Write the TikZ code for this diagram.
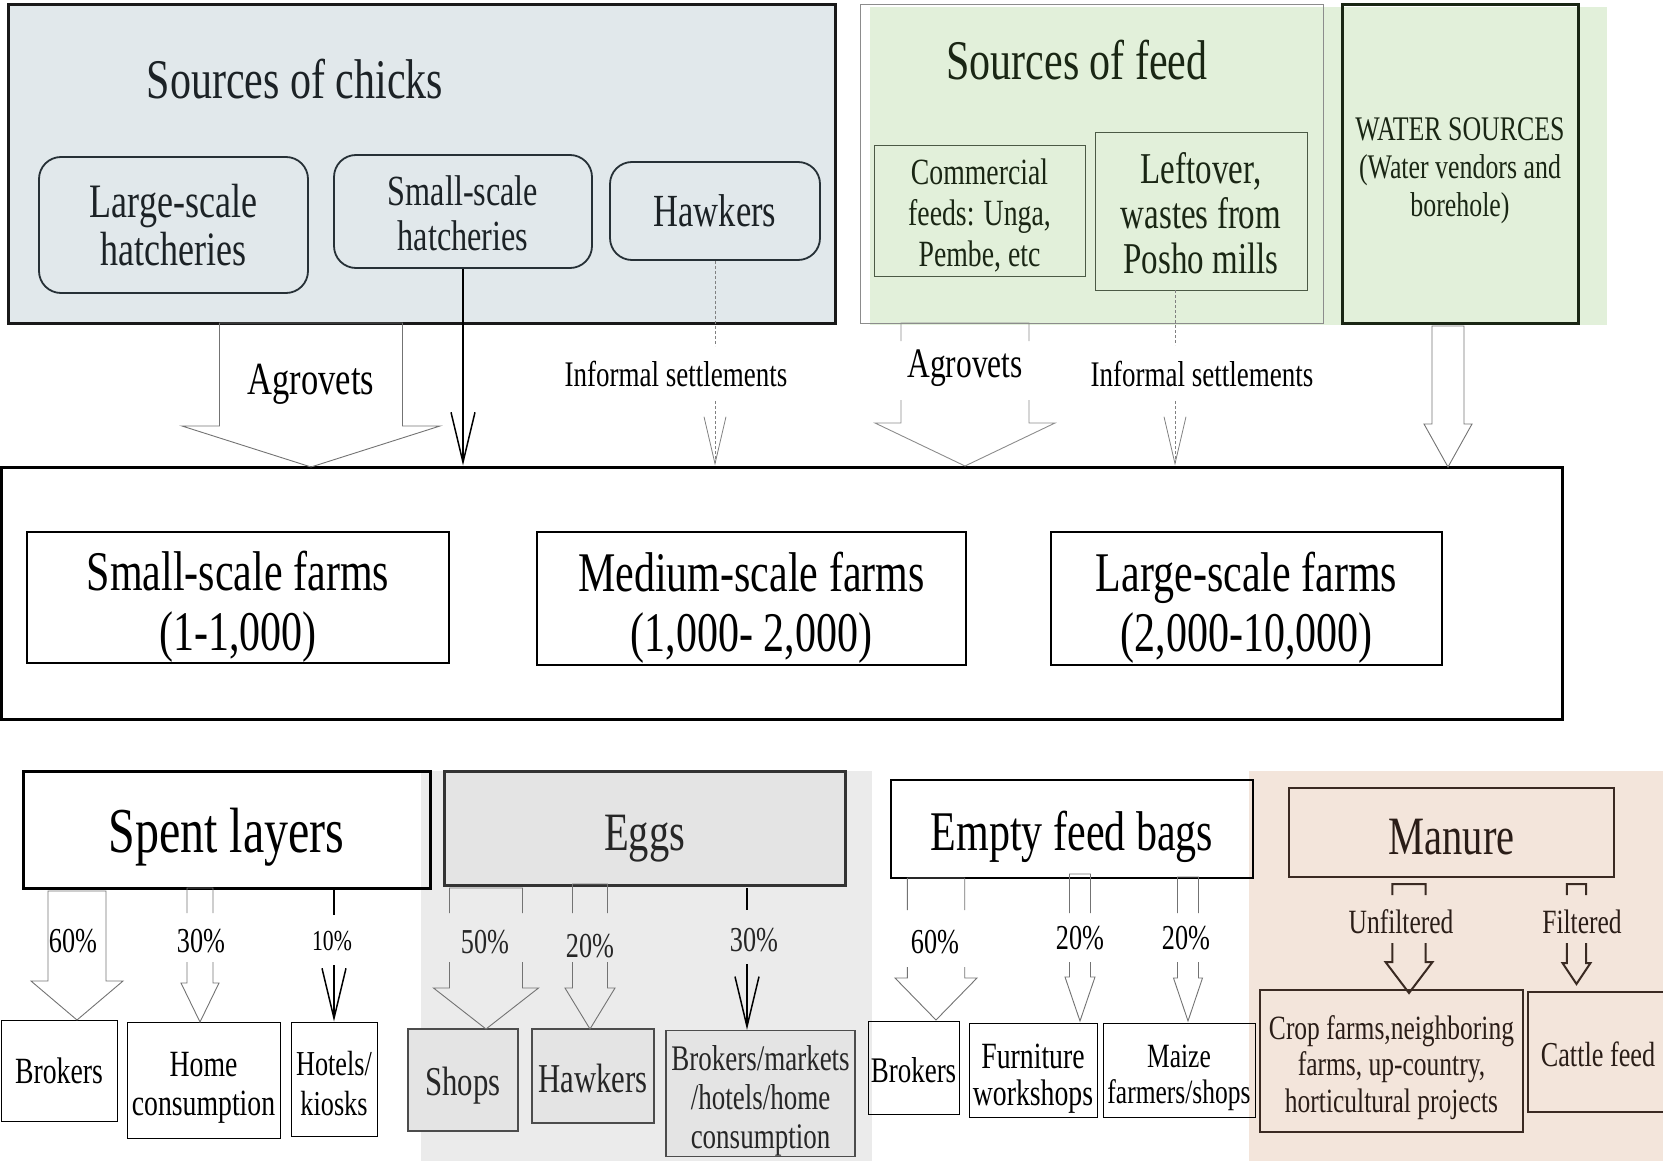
\documentclass[tikz,border=0pt]{standalone}
\usepackage{fontspec}
\setmainfont{Liberation Serif}[FakeStretch=0.75]
\usetikzlibrary{arrows.meta}

\definecolor{chickbg}{HTML}{E1E8EB}
\definecolor{chickln}{HTML}{263036}
\definecolor{chicktx}{HTML}{1C2226}
\definecolor{feedbg}{HTML}{E2F0DA}
\definecolor{feedln}{HTML}{4B5A45}
\definecolor{feedtx}{HTML}{1A2614}
\definecolor{eggbg}{HTML}{EBEBEB}
\definecolor{eggbox}{HTML}{E4E4E4}
\definecolor{manurebg}{HTML}{F3E5DB}
\definecolor{manureln}{HTML}{3A2A22}
\definecolor{manuretx}{HTML}{2A1D17}

\newcommand{\fs}[2]{\fontsize{#1pt}{#2pt}\selectfont}
% invisible strut, pushes the text of a box a bit down
\newcommand{\dn}[1]{\vrule height \dimexpr0.70em+#1\relax width 0pt\relax}
% block arrow: cx, top, gap from, gap to, head y, tip y, shaft half, head half
\newcommand{\blockarr}[9][]{%
  \draw[blockline,#1] ({#2-#8},#4) -- ({#2-#8},#3) -- ({#2+#8},#3) -- ({#2+#8},#4)
    ({#2-#8},#5) -- ({#2-#8},#6) -- ({#2-#9},#6) -- (#2,#7) -- ({#2+#9},#6) -- ({#2+#8},#6) -- ({#2+#8},#5);}

\begin{document}
\begin{tikzpicture}[x=1pt,y=-1pt,
  every node/.style={align=center,inner sep=0pt},
  lower/.style={execute at begin node={\dn{#1pt}}},
  hatch/.style={draw=chickln,line width=1.8pt,rounded corners=22pt,fill=chickbg,text=chicktx},
  feedbox/.style={draw=feedln,line width=1pt,fill=feedbg,text=feedtx},
  farmbox/.style={draw,line width=2.5pt},
  headbox/.style={draw,line width=3pt},
  leaf/.style={draw,line width=1pt},
  eggleaf/.style={draw=black!70,line width=1.5pt,fill=eggbox,text=black!85},
  manleaf/.style={draw=manureln,line width=2.5pt,text=manuretx},
  blockline/.style={draw=black!55,line width=0.9pt},
  linearr/.style={line width=1.5pt,-{Straight Barb[length=50pt,width=24pt]}},
  dashln/.style={draw=black!50,line width=0.8pt,dash pattern=on 3pt off 2pt}]
\useasboundingbox (0,0) rectangle (1663,1161);

% backgrounds
\fill[feedbg] (870,7) rectangle (1607,325);
\fill[eggbg] (421,771) rectangle (872,1161);
\fill[manurebg] (1249,771) rectangle (1663,1161);

% sources of chicks
\node[draw=black!90,line width=3pt,fill=chickbg,minimum width=827pt,minimum height=318pt] (chicks) at (422,164) {};
\node[font=\fs{56}{56},text=chicktx] (chickstitle) at (295,79) {Sources of chicks};
\node[hatch,minimum width=269pt,minimum height=136pt,font=\fs{48}{48}] (lsh) at (173.5,225) {Large-scale\\hatcheries};
\node[hatch,minimum width=258pt,minimum height=113pt,font=\fs{43}{45}] (ssh) at (463,211.5) {\dn{3pt}Small-scale\\hatcheries};
\node[hatch,minimum width=210pt,minimum height=98pt,font=\fs{46}{46}] (hawk) at (715,211) {Hawkers};

% sources of feed and water
\node[draw=black!45,line width=1pt,minimum width=463pt,minimum height=318pt] (feed) at (1091.5,164) {};
\node[font=\fs{56}{56},text=feedtx] (feedtitle) at (1077,60) {Sources of feed};
\node[feedbox,minimum width=211pt,minimum height=130pt,font=\fs{37}{41}] (comm) at (979.5,211) {\dn{8pt}Commercial\\feeds: Unga,\\Pembe, etc};
\node[feedbox,minimum width=212pt,minimum height=157pt,font=\fs{44}{45}] (left) at (1201,211.5) {\dn{4pt}Leftover,\\wastes from\\Posho mills};
\node[draw=feedtx,line width=3pt,minimum width=236pt,minimum height=318pt] (water) at (1460,164) {};
\node[font=\fs{34.5}{38},text=feedtx] (watertxt) at (1460,167) {\dn{7pt}WATER SOURCES\\(Water vendors and\\borehole)};

% farms
\node[draw,line width=3pt,minimum width=1561pt,minimum height=252pt] (farms) at (782,593) {};
\node[farmbox,minimum width=422pt,minimum height=131pt,font=\fs{56}{60}] (sfarm) at (238,597.5) {\dn{18pt}Small-scale farms\\(1-1,000)};
\node[farmbox,minimum width=429pt,minimum height=133pt,font=\fs{56}{60}] (mfarm) at (751.5,598.5) {\dn{18pt}Medium-scale farms\\(1,000- 2,000)};
\node[farmbox,minimum width=391pt,minimum height=133pt,font=\fs{56}{60}] (lfarm) at (1246.5,598.5) {\dn{18pt}Large-scale farms\\(2,000-10,000)};

% arrows into farms
\blockarr[draw=black!55]{311}{323}{400}{400}{426}{467}{91.5}{129}
\node[font=\fs{46}{46}] (agro1) at (311,384) {Agrovets};
\draw[linearr] (ssh.south) -- (ssh.south |- farms.north);
\draw[dashln] (hawk.south) -- ++(0,85);
\draw[dashln,-{Straight Barb[length=47pt,width=22pt]}] (hawk.south |- 0,401) -- (hawk.south |- farms.north);
\node[font=\fs{36}{36}] (inf1) at (676,374) {Informal settlements};
\blockarr[draw=black!45]{965}{323}{341}{400}{423}{466}{64}{90}
\node[font=\fs{42}{42}] (agro2) at (965,368) {Agrovets};
\draw[dashln] (1175,290) -- (1175,345);
\draw[dashln,-{Straight Barb[length=47pt,width=22pt]}] (1175,401) -- (1175,0 |- farms.north);
\node[font=\fs{36}{36}] (inf2) at (1202,374) {Informal settlements};
\blockarr[draw=black!55]{1448}{326}{400}{400}{424}{467}{16}{24}

% outputs
\node[headbox,minimum width=407pt,minimum height=117pt,font=\fs{64}{64},lower=15] (spent) at (226.5,829.5) {Spent layers};
\node[headbox,draw=black!80,fill=eggbox,minimum width=401pt,minimum height=114pt,font=\fs{54}{54},text=black!85,lower=19] (eggs) at (644.5,828) {Eggs};
\node[headbox,line width=2.5pt,minimum width=362pt,minimum height=98pt,font=\fs{56}{56},lower=15] (bags) at (1072,829) {Empty feed bags};
\node[headbox,draw=manureln,line width=2.5pt,minimum width=325pt,minimum height=89pt,font=\fs{54}{54},text=manuretx,lower=6] (manure) at (1451.5,832.5) {Manure};

\node[leaf,minimum width=116pt,minimum height=101pt,font=\fs{37}{37}] (brk1) at (59,1070.5) {Brokers};
\node[leaf,minimum width=153pt,minimum height=116pt,font=\fs{37}{39}] (home) at (203.5,1080) {\dn{13pt}Home\\consumption};
\node[leaf,minimum width=86pt,minimum height=114pt,font=\fs{35}{40}] (hotel) at (334,1079) {\dn{8pt}Hotels/\\kiosks};
\node[eggleaf,minimum width=110pt,minimum height=102pt,font=\fs{41}{41},lower=12] (shops) at (463,1080) {Shops};
\node[eggleaf,minimum width=122pt,minimum height=94pt,font=\fs{41}{41},lower=4] (hawk2) at (593,1076) {Hawkers};
\node[eggleaf,minimum width=189pt,minimum height=125pt,font=\fs{36}{39}] (bmk) at (760.5,1093.5) {\dn{15pt}Brokers/markets\\/hotels/home\\consumption};
\node[leaf,minimum width=91pt,minimum height=93pt,font=\fs{36}{36},lower=6] (brk2) at (913.5,1067.5) {Brokers};
\node[leaf,minimum width=128pt,minimum height=94pt,font=\fs{37}{37}] (furn) at (1033,1070) {\dn{15pt}Furniture\\workshops};
\node[leaf,minimum width=152pt,minimum height=94pt,font=\fs{34}{36}] (maize) at (1179,1070) {\dn{15pt}Maize\\farmers/shops};
\node[manleaf,minimum width=263pt,minimum height=142pt,font=\fs{34}{36.6}] (crop) at (1391.5,1061) {\dn{13pt}Crop farms,neighboring\\farms, up-country,\\horticultural projects};
\node[manleaf,minimum width=147pt,minimum height=120pt] (cattle) at (1601.5,1052) {};
\node[font=\fs{35}{35},text=manuretx] (cattletxt) at (1598,1054) {Cattle feed};

% spent layers arrows
\blockarr{77}{891}{950}{950}{981}{1020}{29}{46}
\node[font=\fs{35}{35}] (p60a) at (73,941) {60\%};
\blockarr{200}{888}{913}{962}{983}{1022}{13}{19}
\node[font=\fs{35}{35}] (p30a) at (201,941) {30\%};
\draw[line width=1.5pt] (hotel.north |- spent.south) -- ++(0,25);
\draw[linearr] (hotel.north |- 0,965) -- (hotel.north);
\node[font=\fs{29}{29}] (p10) at (332,941) {10\%};

% eggs arrows
\blockarr{486}{888}{913}{962}{988}{1029}{36.5}{52.5}
\node[font=\fs{35}{35},text=black!85] (p50) at (485,942) {50\%};
\blockarr{590}{884}{913}{962}{988}{1029}{17.5}{25}
\node[font=\fs{35}{35},text=black!85] (p20a) at (590,946) {20\%};
\draw[line width=1.5pt] (747,888) -- (747,910);
\draw[linearr] (747,964) -- (747,0 |- bmk.north);
\node[font=\fs{35}{35},text=black!85] (p30b) at (754,940) {30\%};

% feed bag arrows
\blockarr{936}{878}{910}{967}{978}{1020}{28.7}{41}
\node[font=\fs{35}{35}] (p60b) at (935,942) {60\%};
\blockarr{1080}{874}{913}{962}{977}{1021}{10.5}{15}
\node[font=\fs{35}{35}] (p20b) at (1080,938) {20\%};
\blockarr{1188}{877}{913}{962}{978}{1021}{10.5}{14.5}
\node[font=\fs{35}{35}] (p20c) at (1186,938) {20\%};

% manure arrows
\blockarr[draw=manureln,line width=2pt]{1409}{884}{895}{943}{962}{993}{16.7}{23.5}
\node[font=\fs{34}{34},text=manuretx] (unf) at (1401,922) {Unfiltered};
\blockarr[draw=manureln,line width=2pt]{1576.5}{884}{895}{943}{963}{984}{9.7}{14}
\node[font=\fs{34}{34},text=manuretx] (fil) at (1582,922) {Filtered};
\end{tikzpicture}
\end{document}
